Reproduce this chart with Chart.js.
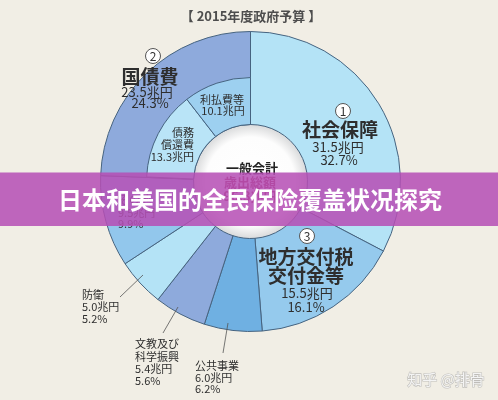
<!DOCTYPE html>
<html><head><meta charset="utf-8">
<script src="https://cdn.jsdelivr.net/npm/chart.js@4/dist/chart.umd.min.js"></script>
<style>
html,body{margin:0;padding:0;background:#f1eee5;}
#wrap{position:relative;width:498px;height:400px;overflow:hidden;}
canvas{position:absolute;left:0;top:0;}
</style></head><body>
<div id="wrap"><canvas id="c1" width="498" height="400"></canvas><canvas id="c2" width="498" height="400"></canvas></div>
<script>
// ---- data (clockwise from 12 o'clock) ----
const categories = ['社会保障', '地方交付税交付金等', '公共事業', '文教及び科学振興', '防衛', 'その他', '国債費'];
const valuesTrillionYen = [31.5, 15.5, 6.0, 5.4, 5.0, 9.5, 23.5];
const percentLabels = ['32.7%', '16.1%', '6.2%', '5.6%', '5.2%', '9.9%', '24.3%'];
const debtCategories = ['債務償還費', '利払費等'];
const debtValues = [13.3, 10.1];
const totalValue = 96.3;
const chartTitle = '【 2015年度政府予算 】';
const bannerTitle = '日本和美国的全民保险覆盖状况探究';
const watermark = '知乎 @排骨';

// ---- styles ----
const outerColors = ['#b4e3f6', '#95caed', '#6fb0e2', '#8eaadc', '#b4e3f6', '#92c7ec', '#8eaadc'];
const debtColors = ['#b9e4f7', '#9dd0f0'];
const edge = '#46637f';
const FONT = '"Noto Sans CJK JP","Liberation Sans",sans-serif';
const yen = v => v.toFixed(1) + '兆円';

const layoutPad = {left: 100, right: 97, top: 31, bottom: 68};
const common = {
  responsive: false, maintainAspectRatio: false, animation: false, events: [],
  devicePixelRatio: 1, layout: {padding: layoutPad},
  plugins: {legend: {display: false}, tooltip: {enabled: false}}
};

const holePlugin = {
  id: 'hole',
  beforeDatasetsDraw(chart) {
    const a = chart.getDatasetMeta(0).data[0];
    const ctx = chart.ctx;
    const g = ctx.createRadialGradient(a.x, a.y, 0, a.x, a.y, a.innerRadius);
    g.addColorStop(0, '#ffffff');
    g.addColorStop(0.78, '#fdfdfd');
    g.addColorStop(1, '#d9dadb');
    ctx.save();
    ctx.beginPath();
    ctx.arc(a.x, a.y, a.innerRadius, 0, Math.PI * 2);
    ctx.fillStyle = g;
    ctx.fill();
    ctx.restore();
  }
};

new Chart(document.getElementById('c1'), {
  type: 'doughnut',
  data: {labels: categories, datasets: [{
    data: valuesTrillionYen, backgroundColor: outerColors,
    borderColor: edge, borderWidth: 1
  }]},
  options: Object.assign({}, common, {cutout: '38%'}),
  plugins: [holePlugin]
});

function txt(ctx, s, x, y, font, color, align) {
  ctx.font = font; ctx.fillStyle = color; ctx.textAlign = align || 'center';
  ctx.textBaseline = 'middle'; ctx.fillText(s, x, y);
}
function circ(ctx, n, x, y) {
  ctx.beginPath(); ctx.arc(x, y, 7.5, 0, Math.PI * 2);
  ctx.fillStyle = '#ffffff'; ctx.fill();
  ctx.lineWidth = 1; ctx.strokeStyle = '#555'; ctx.stroke();
  txt(ctx, n, x, y + 0.5, '12px ' + FONT, '#333');
}
function line(ctx, x1, y1, x2, y2) {
  ctx.beginPath(); ctx.moveTo(x1, y1); ctx.lineTo(x2, y2);
  ctx.lineWidth = 0.8; ctx.strokeStyle = '#555'; ctx.stroke();
}

const labelPlugin = {
  id: 'labels',
  afterDraw(chart) {
    const ctx = chart.ctx;
    ctx.save();
    const dark = '#2e2e2e';
    const big = 'bold 19px ' + FONT, mid = '13px ' + FONT, sm = '11px ' + FONT;
    txt(ctx, chartTitle, 251, 16, 'bold 13px ' + FONT, '#4d4d4d');
    // 国債費
    circ(ctx, '2', 153, 56);
    txt(ctx, categories[6], 150, 76.5, big, dark);
    txt(ctx, yen(valuesTrillionYen[6]), 147, 92, mid, dark);
    txt(ctx, percentLabels[6], 150, 103.5, mid, dark);
    // 社会保障
    circ(ctx, '1', 343, 111);
    txt(ctx, categories[0], 340, 130, big, dark);
    txt(ctx, yen(valuesTrillionYen[0]), 338, 147, mid, dark);
    txt(ctx, percentLabels[0], 339, 160, mid, dark);
    // debt breakdown
    txt(ctx, '利払費等', 222, 99.5, sm, dark);
    txt(ctx, yen(debtValues[1]), 223, 111, sm, dark);
    txt(ctx, '債務', 194, 132.5, sm, dark, 'right');
    txt(ctx, '償還費', 194, 144.5, sm, dark, 'right');
    txt(ctx, yen(debtValues[0]), 194, 156.5, sm, dark, 'right');
    // centre
    txt(ctx, '一般会計', 252, 168, 'bold 13px ' + FONT, '#222');
    txt(ctx, '歳出総額', 250, 182, 'bold 13px ' + FONT, '#9b2c44');
    txt(ctx, yen(totalValue), 250, 196, 'bold 13px ' + FONT, '#9b2c44');
    // 地方交付税
    circ(ctx, '3', 307, 236);
    txt(ctx, '地方交付税', 306, 257, big, dark);
    txt(ctx, '交付金等', 306, 276, big, dark);
    txt(ctx, yen(valuesTrillionYen[1]), 307, 293, mid, dark);
    txt(ctx, percentLabels[1], 306, 307, mid, dark);
    // その他
    txt(ctx, categories[5], 118, 200, sm, dark, 'left');
    txt(ctx, yen(valuesTrillionYen[5]), 118, 212.5, sm, dark, 'left');
    txt(ctx, percentLabels[5], 118, 223.5, sm, dark, 'left');
    // 防衛
    line(ctx, 120, 297, 143, 275);
    txt(ctx, categories[4], 82, 295, sm, dark, 'left');
    txt(ctx, yen(valuesTrillionYen[4]), 82, 307, sm, dark, 'left');
    txt(ctx, percentLabels[4], 82, 318.5, sm, dark, 'left');
    // 文教
    line(ctx, 163, 333, 178, 307);
    txt(ctx, '文教及び', 135, 344, sm, dark, 'left');
    txt(ctx, '科学振興', 135, 356.5, sm, dark, 'left');
    txt(ctx, yen(valuesTrillionYen[3]), 135, 368.5, sm, dark, 'left');
    txt(ctx, percentLabels[3], 135, 380.5, sm, dark, 'left');
    // 公共事業
    line(ctx, 223, 353, 228, 323);
    txt(ctx, categories[2], 195, 365.5, sm, dark, 'left');
    txt(ctx, yen(valuesTrillionYen[2]), 195, 377.5, sm, dark, 'left');
    txt(ctx, percentLabels[2], 195, 389, sm, dark, 'left');
    // banner
    ctx.fillStyle = 'rgba(182,78,180,0.86)';
    ctx.fillRect(0, 172.5, 498, 53.5);
    txt(ctx, bannerTitle, 250, 199.5, 'bold 24px "Noto Sans CJK SC",sans-serif', '#ffffff');
    // watermark
    ctx.font = '15px "Noto Sans CJK SC",sans-serif';
    ctx.textAlign = 'center'; ctx.textBaseline = 'middle';
    ctx.lineWidth = 1.2; ctx.strokeStyle = 'rgba(150,150,150,0.55)';
    ctx.strokeText(watermark, 446, 379);
    ctx.fillStyle = '#f4f4f4';
    ctx.fillText(watermark, 446, 379);
    ctx.restore();
  }
};

const innerData = valuesTrillionYen.slice(0, 6).concat(debtValues);
new Chart(document.getElementById('c2'), {
  type: 'doughnut',
  data: {labels: categories.slice(0, 6).concat(debtCategories), datasets: [{
    data: innerData,
    backgroundColor: innerData.map((v, i) => i < 6 ? 'rgba(0,0,0,0)' : debtColors[i - 6]),
    borderColor: innerData.map((v, i) => i < 6 ? 'rgba(0,0,0,0)' : edge),
    borderWidth: innerData.map((v, i) => i < 6 ? 0 : 1)
  }]},
  options: Object.assign({}, common, {cutout: '54.8%', radius: '69.3%'}),
  plugins: [labelPlugin]
});
</script>
</body></html>
